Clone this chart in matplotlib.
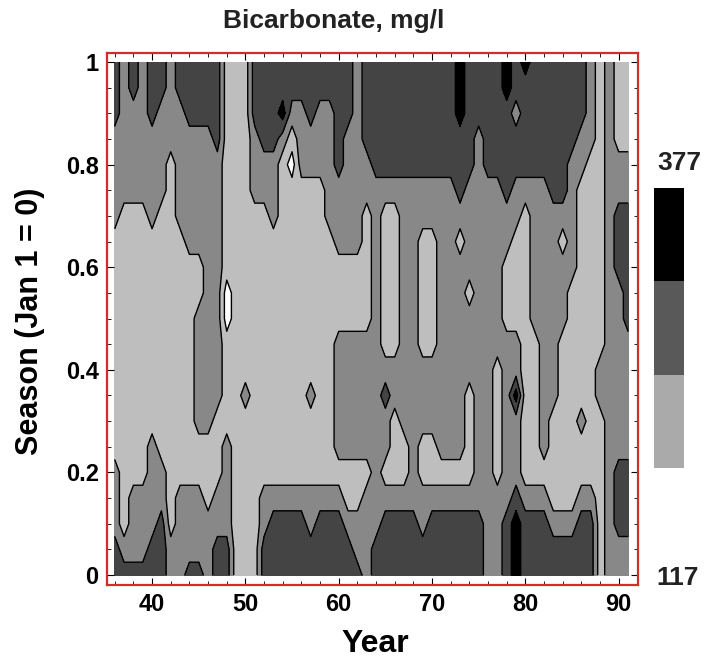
import numpy as np
import matplotlib.pyplot as plt
from matplotlib.colors import ListedColormap, BoundaryNorm
from matplotlib.colorbar import ColorbarBase

plt.rcParams['font.family'] = ['Liberation Sans', 'DejaVu Sans']
plt.rcParams['font.weight'] = 'bold'

# grid: one column per year, season from 1.0 (top) down to 0.0
years = list(range(36, 92))
seasons = [1.0, 0.95, 0.9, 0.85, 0.8, 0.75, 0.7, 0.65, 0.6, 0.55, 0.5,
           0.45, 0.4, 0.35, 0.3, 0.25, 0.2, 0.15, 0.1, 0.05, 0.0]

# bicarbonate class per grid point (0 lowest ... 4 highest)
columns = [
    "333222211111111122233",  # 36
    "222222111111111111123",  # 37
    "332222111111111112223",  # 38
    "222222111111111112223",  # 39
    "333222211111111222233",  # 40
    "332222111111111122333",  # 41
    "222211111111111111122",  # 42
    "332222211111111112222",  # 43
    "333222221111111112223",  # 44
    "333222221122222112223",  # 45
    "333222222222222111222",  # 46
    "333322222222221112233",  # 47
    "111111111001111222233",  # 48
    "111111111111111111111",  # 49
    "111111111111121111111",  # 50
    "333222111111111111111",  # 51
    "333322111111111112233",  # 52
    "333322211111111112333",  # 53
    "334211111111111112333",  # 54
    "332101111111111112333",  # 55
    "332221111111111112333",  # 56
    "333221111111121112233",  # 57
    "332221111111111112333",  # 58
    "332222211111111112333",  # 59
    "333332221112222212333",  # 60
    "333222221112222211233",  # 61
    "222222221112222211223",  # 62
    "333322111112222212222",  # 63
    "333332222222222222233",  # 64
    "333332111111232212333",  # 65
    "333332111111221112333",  # 66
    "333332222222222112333",  # 67
    "333332222222222222333",  # 68
    "333332211111222112233",  # 69
    "333332211111222112333",  # 70
    "333332222222222212333",  # 71
    "333332222222222212333",  # 72
    "444333212222222212333",  # 73
    "333332222122211112333",  # 74
    "333222222222222222333",  # 75
    "333332222222222222222",  # 76
    "333332222222111112222",  # 77
    "443333221112222222333",  # 78
    "332332211112242223444",  # 79
    "433332111111111112333",  # 80
    "333332222221111112333",  # 81
    "333332222222222212333",  # 82
    "333333222222221111233",  # 83
    "333333212221111111233",  # 84
    "333322222111111111233",  # 85
    "333221111111112112333",  # 86
    "222211111111111112333",  # 87
    "111111111111221111111",  # 88
    "222222222222222222222",  # 89
    "111122333222222233322",  # 90
    "111122333332222233322",  # 91
]

class_levels = [-0.5, 0.5, 1.5, 2.5, 3.5, 4.5]
fill_colors = ['#ffffff', '#bebebe', '#888888', '#444444', '#000000']

cbar_bounds = [117, 203.7, 290.3, 377]
cbar_colors = ['#aaaaaa', '#595959', '#000000']

Z = np.array([[int(c) for c in col] for col in columns]).T

fig = plt.figure(figsize=(7.04, 6.62), dpi=100)
ax = fig.add_axes([0.152, 0.1163, 0.7536, 0.8036])

ax.contourf(years, seasons, Z, levels=class_levels, colors=fill_colors)
ax.contour(years, seasons, Z, levels=class_levels[1:-1], colors='black',
           linewidths=1.0)

ax.set_xlim(35.17, 92.02)
ax.set_ylim(-0.0195, 1.0175)

for sp in ax.spines.values():
    sp.set_edgecolor('#d42b2b')
    sp.set_linewidth(1.6)

ax.set_xticks(range(40, 91, 10))
ax.set_xticks(range(36, 92, 2), minor=True)
ax.set_yticks([0, 0.2, 0.4, 0.6, 0.8, 1.0])
ax.set_yticklabels(['0', '0.2', '0.4', '0.6', '0.8', '1'])
ax.set_yticks(np.arange(0, 1.001, 0.05), minor=True)
ax.tick_params(which='both', direction='in', top=True, right=True, color='black')
ax.tick_params(which='major', length=5, width=0.8, labelsize=17, pad=6)
ax.tick_params(which='minor', length=3, width=0.6)

fig.text(334 / 704, 1 - 21 / 662, 'Bicarbonate, mg/l', ha='center', va='center',
         fontsize=19, fontweight='bold', color='#222222')
fig.text(375 / 704, 1 - 644 / 662, 'Year', ha='center', va='center',
         fontsize=23, fontweight='bold')
fig.text(30 / 704, 1 - 321 / 662, 'Season (Jan 1 = 0)', ha='center', va='center',
         rotation=90, fontsize=22, fontweight='bold')

# legend bar
cax = fig.add_axes([654 / 704, 1 - 468 / 662, 30 / 704, 280 / 662])
cb = ColorbarBase(cax, cmap=ListedColormap(cbar_colors),
                  norm=BoundaryNorm(cbar_bounds, 3), orientation='vertical')
cb.outline.set_visible(False)
cb.set_ticks([])
cax.minorticks_off()
cax.tick_params(which='both', length=0)
fig.text(679 / 704, 1 - 163 / 662, '377', ha='center', va='center',
         fontsize=19, fontweight='bold', color='#222222')
fig.text(678 / 704, 1 - 578 / 662, '117', ha='center', va='center',
         fontsize=19, fontweight='bold', color='#222222')

fig.savefig('out.png', dpi=100)
